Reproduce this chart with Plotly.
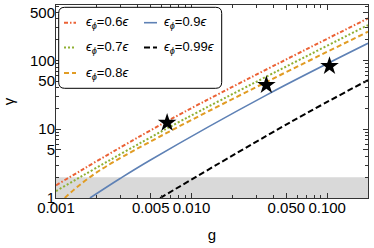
import plotly.graph_objects as go

# ---- data ----
labels = ["0.6", "0.7", "0.8", "0.9", "0.99"]
g_06 = [0.001, 0.00661, 0.2]
gam_06 = [1.53, 13.1, 408]
g_07 = [0.001, 0.00661, 0.2]
gam_07 = [1.26, 10.3, 326]
g_08 = [0.00116, 0.00211, 0.2]
gam_08 = [1.0, 2.53, 261]
g_09 = [0.00178, 0.00297, 0.00494, 0.0356, 0.2]
gam_09 = [1.0, 1.92, 3.54, 31.3, 177]
g_099 = [0.00586, 0.0534, 0.2]
gam_099 = [1.0, 12.6, 51.7]
g_star = [0.0066, 0.0356, 0.104]
gam_star = [12.4, 43.7, 82.6]
band_g = [1e-4, 1.0, 1.0, 1e-4]
band_gam = [0.5, 0.5, 2.0, 2.0]

x_tickvals = [0.001, 0.005, 0.01, 0.05, 0.1]
x_ticktext = ["0.001", "0.005", "0.010", "0.050", "0.100"]
y_tickvals = [1, 5, 10, 50, 100, 500]
y_ticktext = ["1", "5", "10", "50", "100", "500"]
x_minor = [0.002, 0.003, 0.004, 0.006, 0.007, 0.008, 0.009,
           0.02, 0.03, 0.04, 0.06, 0.07, 0.08, 0.09, 0.2]
y_minor = [2, 3, 4, 6, 7, 8, 9, 20, 30, 40, 60, 70, 80, 90,
           200, 300, 400, 600]

# ---- styles ----
colors = ["#EB6235", "#8FB032", "#E19C24", "#5E81B5", "#000000"]
dashes = ["4px,2px,1.5px,2px", "2px,2px", "5px,3px", "solid", "6px,3px"]
widths = [2, 2, 2, 1.6, 2]
series = [(g_06, gam_06), (g_07, gam_07), (g_08, gam_08), (g_09, gam_09), (g_099, gam_099)]

FONT = "Liberation Sans, Arial, DejaVu Sans, sans-serif"

fig = go.Figure()
fig.add_trace(go.Scatter(x=band_g, y=band_gam, fill="toself", mode="lines",
                         line=dict(width=0), fillcolor="#D9D9D9",
                         hoverinfo="skip", showlegend=False))
for (gx, gy), c, d, w in zip(series, colors, dashes, widths):
    fig.add_trace(go.Scatter(x=gx, y=gy, mode="lines",
                             line=dict(color=c, dash=d, width=w,
                                       shape="spline", smoothing=1.0),
                             showlegend=False))
fig.add_trace(go.Scatter(x=g_star, y=gam_star, mode="markers",
                         marker=dict(symbol="star", size=14, color="black"),
                         showlegend=False))

# ---- plot geometry (pixels) ----
W, H = 374, 248
L, R, T, B = 56, 6, 5, 50
pw, ph = W - L - R, H - T - B


def px(x):
    return (x - L) / pw


def py(y):
    return (H - B - y) / ph


# ---- legend drawn as a framed key ----
bx0, bx1, by0, by1, rad = 58.7, 221.7, 7.3, 88.3, 6
rx, ry = rad / pw, rad / ph
X0, X1, Y0, Y1 = px(bx0), px(bx1), py(by1), py(by0)
path = (f"M{X0+rx},{Y1} L{X1-rx},{Y1} Q{X1},{Y1} {X1},{Y1-ry} "
        f"L{X1},{Y0+ry} Q{X1},{Y0} {X1-rx},{Y0} L{X0+rx},{Y0} "
        f"Q{X0},{Y0} {X0},{Y0+ry} L{X0},{Y1-ry} Q{X0},{Y1} {X0+rx},{Y1} Z")
shapes = [dict(type="path", path=path, xref="paper", yref="paper",
               line=dict(color="black", width=1), fillcolor="white", layer="above")]
annotations = []
slots = [(64, 76, 85, 22.7), (64, 76, 85, 47.5), (64, 76, 85, 73),
         (144, 157, 163, 22.7), (144, 157, 163, 47.5)]
for lab, c, d, w, (sx0, sx1, tx, ty) in zip(labels, colors, dashes, widths, slots):
    shapes.append(dict(type="line", xref="paper", yref="paper",
                       x0=px(sx0), x1=px(sx1), y0=py(ty), y1=py(ty),
                       line=dict(color=c, dash=d, width=w), layer="above"))
    annotations.append(dict(xref="paper", yref="paper", x=px(tx), y=py(ty),
                            xanchor="left", yanchor="middle", showarrow=False,
                            borderpad=0,
                            text=f"<i>ϵ</i><sub><i>ϕ</i></sub>={lab}<i>ϵ</i>",
                            font=dict(family=FONT, size=13, color="black")))

axis_common = dict(type="log", showgrid=False, zeroline=False, showline=True,
                   linecolor="#333333", linewidth=1, mirror="allticks",
                   ticks="inside", ticklen=5, tickcolor="#333333",
                   automargin=False,
                   tickfont=dict(family=FONT, size=15, color="black"))

fig.update_layout(
    width=W, height=H,
    margin=dict(l=L, r=R, t=T, b=B, autoexpand=False),
    paper_bgcolor="white", plot_bgcolor="white",
    showlegend=False,
    shapes=shapes, annotations=annotations,
    xaxis=dict(**axis_common, range=[-3, -0.699],
               tickmode="array", tickvals=x_tickvals, ticktext=x_ticktext,
               ticklabelstandoff=-4,
               minor=dict(tickmode="array", tickvals=x_minor, ticks="inside",
                          ticklen=3, tickcolor="#333333"),
               title=dict(text="g", font=dict(family=FONT, size=15, color="black"),
                          standoff=14)),
    yaxis=dict(**axis_common, range=[0, 2.805],
               tickmode="array", tickvals=y_tickvals, ticktext=y_ticktext,
               ticklabelstandoff=-3,
               minor=dict(tickmode="array", tickvals=y_minor, ticks="inside",
                          ticklen=3, tickcolor="#333333"),
               title=dict(text="γ", font=dict(family=FONT, size=15, color="black"),
                          standoff=12)),
)

fig.write_html("out.html", config={"displayModeBar": False},
               post_script="document.body.style.margin='0';document.body.style.overflow='hidden';")
